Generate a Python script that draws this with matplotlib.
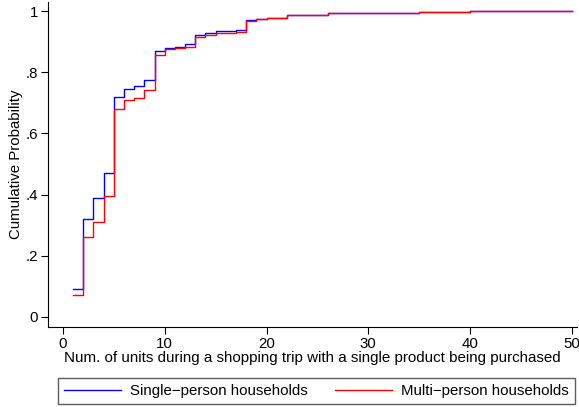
import matplotlib
matplotlib.use("Agg")
import matplotlib.pyplot as plt

plt.rcParams['font.family'] = ['Liberation Sans', 'DejaVu Sans']

# cumulative distribution of units per trip (jump points)
xSingle = [1, 2, 3, 4, 5, 6, 7, 8, 9, 10, 11, 12, 13, 14, 15, 16, 17, 18, 19, 20,
           21, 22, 23, 24, 25, 26, 28, 30, 35, 40, 48, 50]
ySingle = [0.092, 0.320, 0.388, 0.470, 0.718, 0.746, 0.755, 0.776, 0.869, 0.881,
           0.883, 0.891, 0.921, 0.929, 0.935, 0.936, 0.937, 0.971, 0.976, 0.978,
           0.979, 0.987, 0.988, 0.989, 0.989, 0.993, 0.994, 0.995, 0.998, 0.999,
           0.9995, 1.0]

xMulti = [1, 2, 3, 4, 5, 6, 7, 8, 9, 10, 11, 12, 13, 14, 15, 16, 17, 18, 19, 20,
          21, 22, 23, 24, 25, 26, 28, 30, 35, 40, 48, 50]
yMulti = [0.072, 0.260, 0.311, 0.397, 0.680, 0.711, 0.717, 0.742, 0.858, 0.875,
          0.878, 0.884, 0.914, 0.922, 0.928, 0.930, 0.932, 0.969, 0.974, 0.977,
          0.979, 0.986, 0.987, 0.988, 0.989, 0.993, 0.994, 0.995, 0.998, 0.999,
          0.9995, 1.0]

yTicks = [0, 0.2, 0.4, 0.6, 0.8, 1]
yTickLabels = ["0", ".2", ".4", ".6", ".8", "1"]
xTicks = [0, 10, 20, 30, 40, 50]

fig = plt.figure(figsize=(5.79, 4.07), dpi=100)
ax = fig.add_axes([48/579, 80/407, 529/579, 325/407])

ax.plot(xSingle, ySingle, drawstyle="steps-post", color="#0000ff", lw=1.0,
        label="Single\u2212person households")
ax.plot(xMulti, yMulti, drawstyle="steps-post", color="#ff0000", lw=1.0,
        label="Multi\u2212person households")

ax.set_xlim(-1.47, 50.5)
ax.set_ylim(-0.033, 1.03)
ax.set_xticks(xTicks)
ax.set_yticks(yTicks)
ax.set_yticklabels(yTickLabels)
ax.spines["top"].set_visible(False)
ax.spines["right"].set_visible(False)
ax.tick_params(labelsize=10.8, length=5, width=0.8, pad=2)
ax.set_ylabel("Cumulative Probability", fontsize=10.8, labelpad=2)
ax.set_xlabel("Num. of units during a shopping trip with a single product being purchased",
              fontsize=10.9, labelpad=0)

fig.legend(loc="lower left", bbox_to_anchor=(58/579, 3/407, 517/579, 28/407),
           mode="expand", ncol=2, fontsize=10.8, frameon=True, fancybox=False,
           edgecolor="#333333", handlelength=3.8, handletextpad=0.6,
           borderaxespad=0)

fig.savefig("out.png", dpi=100)
